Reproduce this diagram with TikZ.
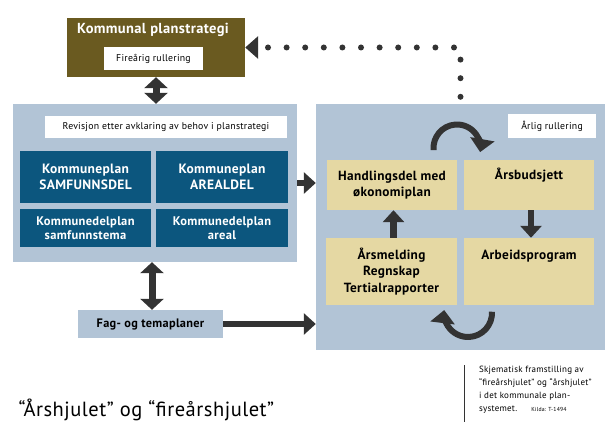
\documentclass[tikz,border=0pt]{standalone}
\usepackage{fontspec}
\setmainfont[LetterSpace=2.5]{PT Sans}
\usetikzlibrary{positioning, calc, arrows.meta}
\definecolor{PlanOlive}{HTML}{6A5A20}
\definecolor{PlanBlue}{HTML}{0C567E}
\definecolor{PlanGrey}{HTML}{B2C4D6}
\definecolor{PlanSand}{HTML}{E5D8A3}
\definecolor{ArrowDark}{HTML}{333333}

\begin{document}
\begin{tikzpicture}[x=1pt, y=1pt,
  box/.style={inner sep=0pt, align=center},
  greybox/.style={box, fill=PlanGrey},
  whitebox/.style={box, fill=white, font=\fontsize{9.8}{12}\selectfont},
  bluebox/.style={box, fill=PlanBlue, text=white, font=\bfseries\fontsize{13.5}{15.5}\selectfont},
  sandbox/.style={box, fill=PlanSand, minimum width=130pt, font=\bfseries\fontsize{13.3}{16.5}\selectfont},
  sandtxt/.style={font=\bfseries\fontsize{13.3}{16.5}\selectfont, anchor=base},
  fat/.style={ArrowDark, line width=6.5pt, -{Triangle[length=12pt, width=21pt]}},
  fatboth/.style={ArrowDark, line width=7pt, {Triangle[length=11pt, width=23pt]}-{Triangle[length=11pt, width=23pt]}},
  turn/.style={ArrowDark, line width=6pt, -{Triangle[length=13pt, width=24pt]}},
]
  \useasboundingbox (0,0) rectangle (615,423);
  % four-year strategy
  \node[box, fill=PlanOlive, minimum width=178pt, minimum height=59pt] (plan) at (156,375.5) {};
  \node[anchor=base, text=white, font=\bfseries\fontsize{14.5}{17}\selectfont] (plantitle) at (153,389) {Kommunal planstrategi};
  \node[whitebox, minimum width=99pt, minimum height=23pt] (fire) at (153.5,364.5) {Fireårig rullering};
  % plan block
  \node[greybox, minimum width=284pt, minimum height=158pt] (rev) at (155,240) {};
  \node[whitebox, minimum width=242pt, minimum height=22pt] (revlbl) at (166,296) {Revisjon etter avklaring av behov i planstrategi};
  \node[bluebox, minimum width=131pt, minimum height=52pt] (ks) at (85.5,246) {Kommuneplan\\SAMFUNNSDEL};
  \node[bluebox, minimum width=132pt, minimum height=52pt] (ka) at (222,246) {Kommuneplan\\AREALDEL};
  \node[bluebox, minimum width=131pt, minimum height=38pt, font=\bfseries\fontsize{12.5}{14.5}\selectfont] (kds) at (85.5,195) {Kommunedelplan\\samfunnstema};
  \node[bluebox, minimum width=132pt, minimum height=38pt, font=\bfseries\fontsize{12.5}{14.5}\selectfont] (kda) at (222,195) {Kommunedelplan\\areal};
  \node[greybox, minimum width=145pt, minimum height=28pt, font=\bfseries\fontsize{12.3}{14}\selectfont] (fag) at (150.5,99) {Fag- og temaplaner};
  % yearly block
  \node[greybox, minimum width=289pt, minimum height=246pt] (aar) at (460.5,196) {};
  \node[whitebox, minimum width=88pt, minimum height=24pt] (aarlbl) at (552,297) {Årlig rullering};
  \node[sandbox, minimum height=50pt] (hd) at (392,238) {Handlingsdel med\\økonomiplan};
  \node[sandbox, minimum height=50pt] (ab) at (529,238) {};
  \node[sandtxt] (abtxt) at ($(ab.north)+(0,-20)$) {Årsbudsjett};
  \node[sandbox, minimum width=131pt, minimum height=67pt] (am) at (391.5,151.5) {Årsmelding\\Regnskap\\Tertialrapporter};
  \node[sandbox, minimum height=67pt] (ap) at (529,151.5) {};
  \node[sandtxt] (aptxt) at ($(ap.north)+(0,-21.5)$) {Arbeidsprogram};
  % connectors
  \draw[fatboth] (plan.south) -- (plan.south |- rev.north);
  \draw[fat] (rev.east) -- (rev.east -| aar.west);
  \draw[fatboth] ($(fag.north)+(1.5,0)$) -- ($(fag.north |- rev.south)+(1.5,0)$);
  \draw[fat] (fag.east) -- (fag.east -| aar.west);
  \draw[fat] ($(ab.south)+(2,0)$) -- ($(ap.north)+(2,0)$);
  \draw[fat] ($(am.north)+(2,0)$) -- ($(am.north |- hd.south)+(2,0)$);
  % wheels
  \coordinate (wheeltop) at (457,275);
  \draw[turn] ($(wheeltop)+(185:23.5)$) arc[start angle=185, end angle=-10, radius=23.5];
  \coordinate (wheelbot) at (468,110);
  \draw[turn] ($(wheelbot)+(3:24)$) arc[start angle=3, end angle=-187, radius=24];
  % feedback to strategy
  \coordinate (dottop) at ($(aar.north)+(0,7)$);
  \draw[ArrowDark, line width=6pt, line cap=round, dash pattern=on 0pt off 18.6pt, -{Triangle[length=13pt, width=22pt]}] (dottop) |- (plan.east);
  % captions
  \node[anchor=base west, font=\fontsize{20.5}{24}\selectfont] (title) at (15,7) {“Årshjulet” og “fireårshjulet”};
  \draw[ArrowDark, line width=1pt] (464,58) -- (464,1);
  \node[anchor=north west, align=left, inner sep=0pt, font=\fontsize{9}{13}\selectfont] (note) at (479,57)
    {Skjematisk framstilling av\\“fireårshjulet” og “årshjulet”\\i det kommunale plan-\\systemet.\hspace{14pt}{\fontsize{5.8}{6}\selectfont Kilda: T-1494}};
\end{tikzpicture}
\end{document}
